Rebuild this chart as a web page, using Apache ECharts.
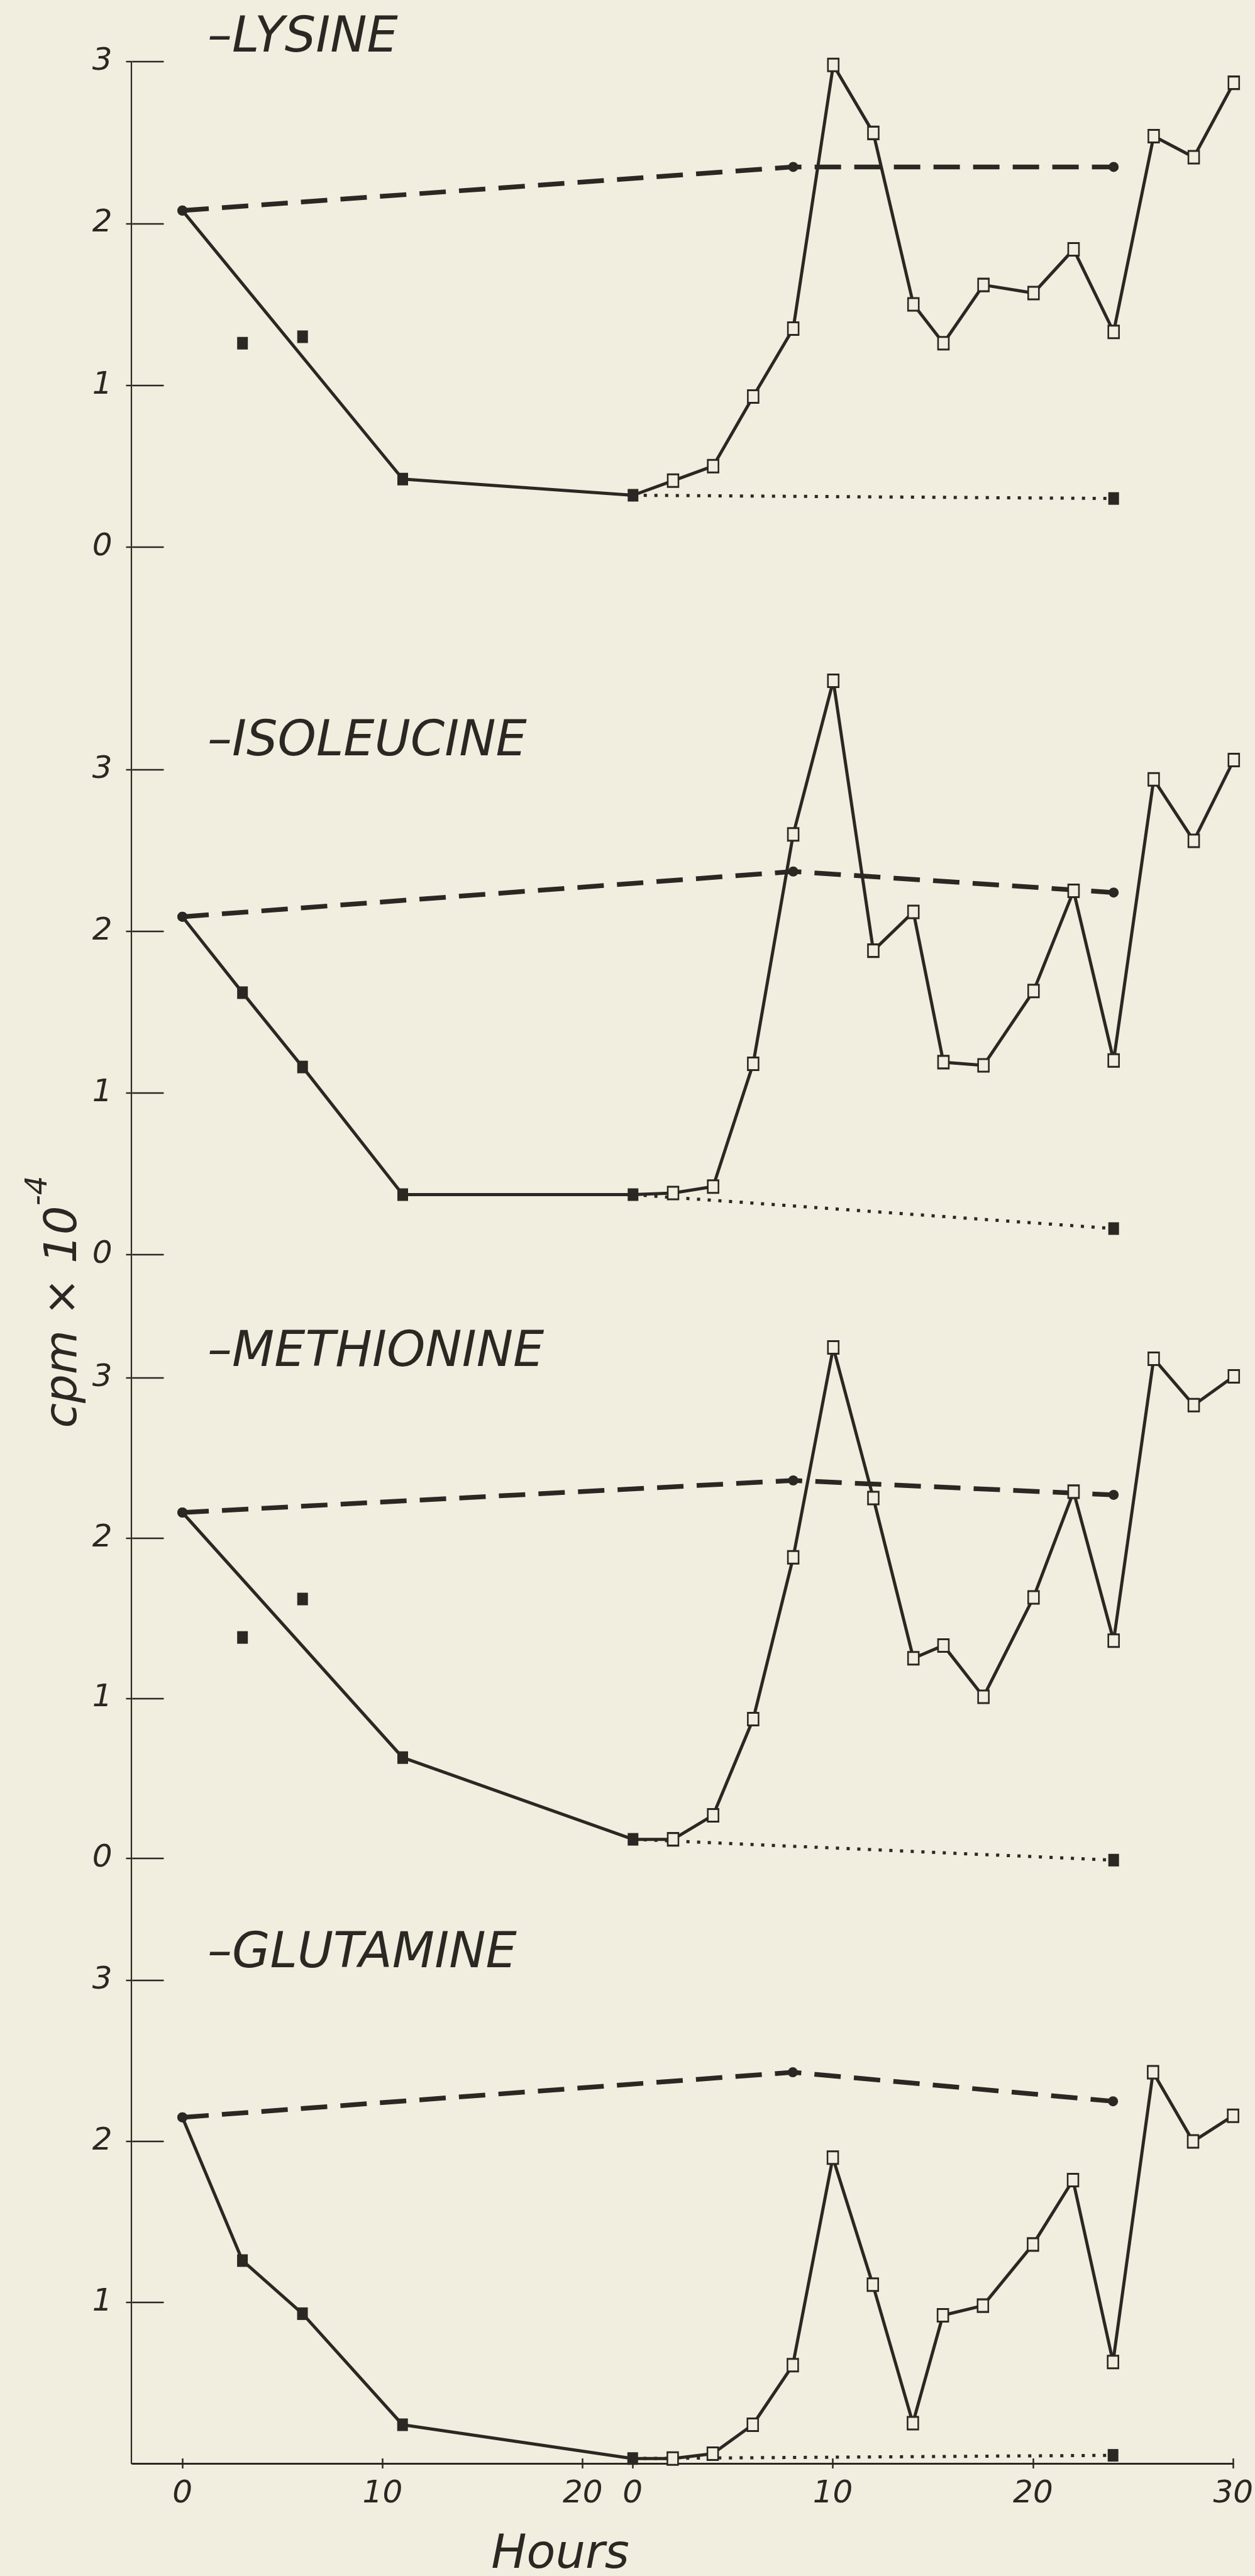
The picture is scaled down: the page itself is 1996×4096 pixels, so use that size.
<!DOCTYPE html>
<html>
<head>
<meta charset="utf-8">
<script src="https://cdn.jsdelivr.net/npm/echarts@6/dist/echarts.min.js"></script>
<style>
html,body{margin:0;padding:0;background:#f1eedf;}
#chart{width:1996px;height:4096px;}
</style>
</head>
<body>
<div id="chart"></div>
<script>
// ---------------- DATA ----------------
// Second time axis ("0" after the first 20) starts 22.5 h after the first 0
const REFEED_OFFSET = 22.5;
const panelNames = ['–LYSINE', '–ISOLEUCINE', '–METHIONINE', '–GLUTAMINE'];
const xTickFast = [0, 10, 20];
const xTickRefeed = [0, 10, 20, 30];
const yTicks = [0, 1, 2, 3];
const yTicksBottom = [1, 2, 3];
const yTitle = 'cpm × 10';
const yTitleExp = '-4';
const xTitle = 'Hours';

const refeedHours = [0, 2, 4, 6, 8, 10, 12, 14, 15.5, 17.5, 20, 22, 24, 26, 28, 30];
const controlFastHours = [0];
const controlRefeedHours = [8, 24];
const chaseRefeedHours = [0, 24];

const lysineFastHours = [0, 11];
const lysineFastValues = [2.08, 0.42];
const lysineSideHours = [3, 6];
const lysineSideValues = [1.26, 1.30];
const lysineRefeedValues = [0.32, 0.41, 0.50, 0.93, 1.35, 2.98, 2.56, 1.50, 1.26, 1.62, 1.57, 1.84, 1.33, 2.54, 2.41, 2.87];
const lysineControlValues = [2.08, 2.35, 2.35];
const lysineChaseValues = [0.32, 0.30];

const isoleucineFastHours = [0, 3, 6, 11];
const isoleucineFastValues = [2.09, 1.62, 1.16, 0.37];
const isoleucineSideHours = [];
const isoleucineSideValues = [];
const isoleucineRefeedValues = [0.37, 0.38, 0.42, 1.18, 2.60, 3.55, 1.88, 2.12, 1.19, 1.17, 1.63, 2.25, 1.20, 2.94, 2.56, 3.06];
const isoleucineControlValues = [2.09, 2.37, 2.24];
const isoleucineChaseValues = [0.37, 0.16];

const methionineFastHours = [0, 11];
const methionineFastValues = [2.16, 0.63];
const methionineSideHours = [3, 6];
const methionineSideValues = [1.38, 1.62];
const methionineRefeedValues = [0.12, 0.12, 0.27, 0.87, 1.88, 3.19, 2.25, 1.25, 1.33, 1.01, 1.63, 2.29, 1.36, 3.12, 2.83, 3.01];
const methionineControlValues = [2.16, 2.36, 2.27];
const methionineChaseValues = [0.12, -0.01];

const glutamineFastHours = [0, 3, 6, 11];
const glutamineFastValues = [2.15, 1.26, 0.93, 0.24];
const glutamineSideHours = [];
const glutamineSideValues = [];
const glutamineRefeedValues = [0.03, 0.03, 0.06, 0.24, 0.61, 1.90, 1.11, 0.25, 0.92, 0.98, 1.36, 1.76, 0.63, 2.43, 2.00, 2.16];
const glutamineControlValues = [2.15, 2.43, 2.25];
const glutamineChaseValues = [0.03, 0.05];

// ---------------- STYLE / LAYOUT ----------------
const INK = '#2b2723';
const PAPER = '#f1eedf';
const FONT = 'DejaVu Sans';
const GRID_LEFT = 210.5, GRID_RIGHT = 33.7;
const panelTop = [98.2, 1223.9, 2191.0, 3149.2];
const panelHeight = [771.6, 770.7, 764.2, 767.7];
const CIRCLE = 16;
const SQUARE = [17, 20];

const panels = [
  {fh: lysineFastHours, fv: lysineFastValues, sh: lysineSideHours, sv: lysineSideValues, rv: lysineRefeedValues, cv: lysineControlValues, ch: lysineChaseValues},
  {fh: isoleucineFastHours, fv: isoleucineFastValues, sh: isoleucineSideHours, sv: isoleucineSideValues, rv: isoleucineRefeedValues, cv: isoleucineControlValues, ch: isoleucineChaseValues},
  {fh: methionineFastHours, fv: methionineFastValues, sh: methionineSideHours, sv: methionineSideValues, rv: methionineRefeedValues, cv: methionineControlValues, ch: methionineChaseValues},
  {fh: glutamineFastHours, fv: glutamineFastValues, sh: glutamineSideHours, sv: glutamineSideValues, rv: glutamineRefeedValues, cv: glutamineControlValues, ch: glutamineChaseValues}
];

const xTickValues = xTickFast.concat(xTickRefeed.map(h => REFEED_OFFSET + h));
const xFmt = v => String(Math.round(v >= REFEED_OFFSET - 0.01 ? v - REFEED_OFFSET : v));
const labelFont = {fontFamily: FONT, fontStyle: 'italic', fontSize: 50, color: INK};

const grid = [], xAxis = [], yAxis = [], series = [];

panels.forEach((p, i) => {
  grid.push({left: GRID_LEFT, right: GRID_RIGHT, top: panelTop[i], height: panelHeight[i], containLabel: false});
  const isBottom = i === 3;
  xAxis.push({
    type: 'value', gridIndex: i, position: 'bottom', min: -2.5, max: 52.5, show: isBottom,
    axisLine: {show: true, onZero: false, lineStyle: {color: INK, width: 3}},
    axisTick: {show: true, customValues: xTickValues, length: 8, lineStyle: {color: INK, width: 2.5}},
    axisLabel: Object.assign({show: true, customValues: xTickValues, formatter: xFmt, margin: 24}, labelFont),
    splitLine: {show: false}
  });
  const yt = isBottom ? yTicksBottom : yTicks;
  yAxis.push({
    type: 'value', gridIndex: i, position: 'left', min: 0, max: 3, interval: 1,
    axisLine: {show: false, onZero: false},
    axisTick: {show: true, inside: true, length: 50, customValues: yt, lineStyle: {color: INK, width: 2.4}},
    axisLabel: Object.assign({show: true, customValues: yt, margin: 32}, labelFont),
    splitLine: {show: false}
  });
});
// inside tick half for bottom x axis
xAxis.push({
  type: 'value', gridIndex: 3, position: 'bottom', min: -2.5, max: 52.5,
  axisLine: {show: false, onZero: false},
  axisTick: {show: true, inside: true, customValues: xTickValues, length: 8, lineStyle: {color: INK, width: 2.5}},
  axisLabel: {show: false}, splitLine: {show: false}
});
// outside tick halves for y axes
panels.forEach((p, i) => {
  yAxis.push({
    type: 'value', gridIndex: i, position: 'left', min: 0, max: 3, interval: 1,
    axisLine: {show: false, onZero: false},
    axisTick: {show: true, inside: false, length: 10, customValues: i === 3 ? yTicksBottom : yTicks, lineStyle: {color: INK, width: 2.4}},
    axisLabel: {show: false}, splitLine: {show: false}
  });
});
// frame grid for the continuous vertical axis line
grid.push({left: GRID_LEFT - 1.5, right: GRID_RIGHT, top: panelTop[0], bottom: 4096 - (panelTop[3] + panelHeight[3])});
xAxis.push({type: 'value', gridIndex: 4, min: 0, max: 1, show: false});
yAxis.push({type: 'value', gridIndex: 4, position: 'left', min: 0, max: 1,
  axisLine: {show: true, onZero: false, lineStyle: {color: INK, width: 2.2}},
  axisTick: {show: false}, axisLabel: {show: false}, splitLine: {show: false}});

const filled = {color: INK, borderWidth: 0, opacity: 1};
const open = {color: PAPER, borderColor: INK, borderWidth: 2.8, opacity: 1};

panels.forEach((p, i) => {
  // control (dashed)
  const ctrlX = controlFastHours.concat(controlRefeedHours.map(h => REFEED_OFFSET + h));
  series.push({
    type: 'line', xAxisIndex: i, yAxisIndex: i, z: 2, clip: false, silent: true,
    data: ctrlX.map((x, k) => [x, p.cv[k]]),
    symbol: 'circle', symbolSize: CIRCLE, itemStyle: filled,
    lineStyle: {color: INK, width: 7.5, type: [42, 21]}
  });
  // chase (dotted)
  series.push({
    type: 'line', xAxisIndex: i, yAxisIndex: i, z: 2, clip: false, silent: true,
    data: chaseRefeedHours.map((h, k) => ({value: [REFEED_OFFSET + h, p.ch[k]], symbol: k === 0 ? 'none' : 'rect', symbolSize: SQUARE, itemStyle: filled})),
    lineStyle: {color: INK, width: 5, type: [5, 12]}
  });
  // main solid line
  const d = [];
  p.fh.forEach((h, k) => d.push({value: [h, p.fv[k]], symbol: k === 0 ? 'circle' : 'rect', symbolSize: k === 0 ? CIRCLE : SQUARE, itemStyle: filled}));
  refeedHours.forEach((h, k) => d.push({value: [REFEED_OFFSET + h, p.rv[k]], symbol: 'rect', symbolSize: SQUARE, itemStyle: k === 0 ? filled : open}));
  series.push({
    type: 'line', xAxisIndex: i, yAxisIndex: i, z: 3, clip: false, silent: true,
    data: d, showAllSymbol: true,
    lineStyle: {color: INK, width: 5}
  });
  // isolated points
  if (p.sh.length) {
    series.push({
      type: 'scatter', xAxisIndex: i, yAxisIndex: i, z: 3, clip: false, silent: true,
      data: p.sh.map((h, k) => [h, p.sv[k]]),
      symbol: 'rect', symbolSize: SQUARE, itemStyle: filled
    });
  }
});

const labelY = [62.5, 1182, 2152.5, 3109];
const graphic = panelNames.map((n, i) => ({
  type: 'text', left: 330, top: labelY[i] - 40, silent: true,
  style: {text: n, fontFamily: FONT, fontStyle: 'italic', fontSize: 78, fill: INK}
}));
graphic.push({
  type: 'text', x: 891, y: 4064, silent: true,
  style: {text: xTitle, fontFamily: FONT, fontStyle: 'italic', fontSize: 75, fill: INK, align: 'center', verticalAlign: 'middle'}
});
graphic.push({
  type: 'text', x: 88, y: 2070, rotation: Math.PI / 2, silent: true,
  style: {
    text: '{m|' + yTitle + '}{s|' + yTitleExp + '}',
    align: 'center', verticalAlign: 'middle', fill: INK,
    rich: {
      m: {fontFamily: FONT, fontStyle: 'italic', fontSize: 72, lineHeight: 100, fill: INK, verticalAlign: 'bottom'},
      s: {fontFamily: FONT, fontStyle: 'italic', fontSize: 48, lineHeight: 100, fill: INK, verticalAlign: 'top'}
    }
  }
});

const chart = echarts.init(document.getElementById('chart'), null, {renderer: 'canvas', width: 1996, height: 4096});
chart.setOption({
  backgroundColor: PAPER,
  animation: false,
  grid, xAxis, yAxis, series, graphic
});
</script>
</body>
</html>
